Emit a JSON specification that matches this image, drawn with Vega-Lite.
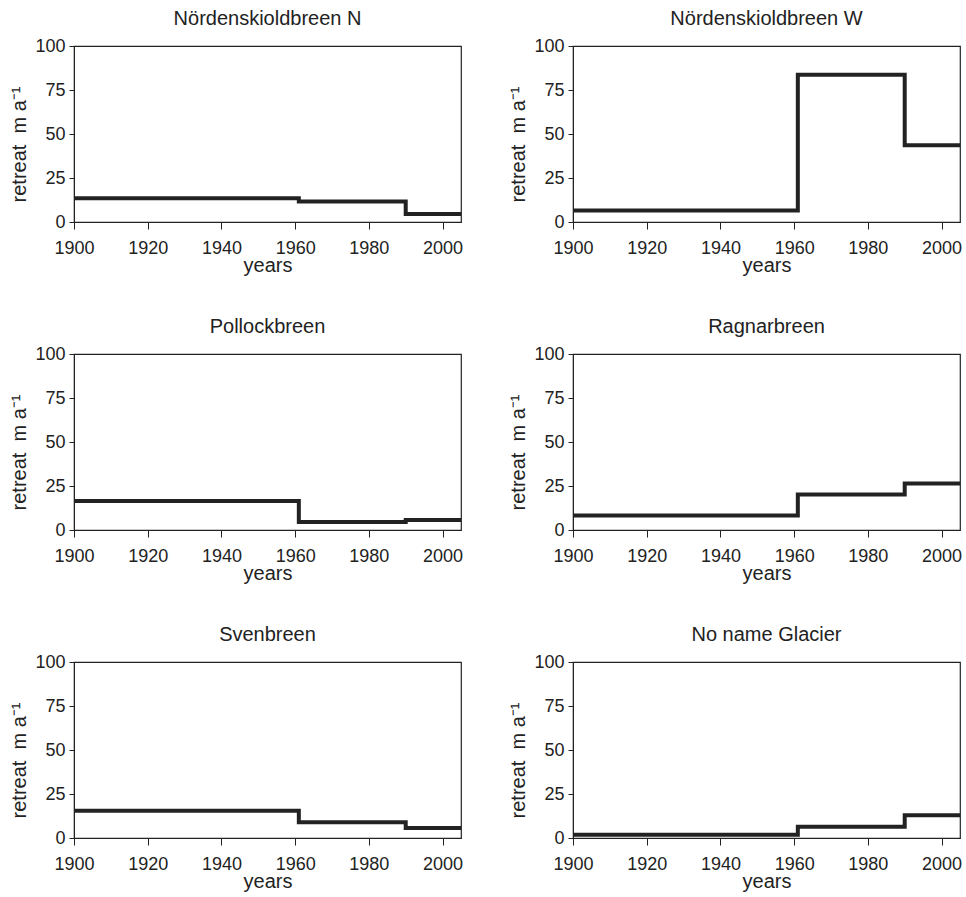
{
  "$schema": "https://vega.github.io/schema/vega-lite/v6.json",
  "background": "white",
  "padding": {"left": 9, "top": 8, "right": 0, "bottom": 0},
  "data": {
    "values": [
      {"glacier": "Nördenskioldbreen N", "year": 1900, "retreat": 13.5},
      {"glacier": "Nördenskioldbreen N", "year": 1961, "retreat": 11.7},
      {"glacier": "Nördenskioldbreen N", "year": 1990, "retreat": 4.6},
      {"glacier": "Nördenskioldbreen N", "year": 2005, "retreat": 4.6},
      {"glacier": "Nördenskioldbreen W", "year": 1900, "retreat": 6.5},
      {"glacier": "Nördenskioldbreen W", "year": 1961, "retreat": 83.7},
      {"glacier": "Nördenskioldbreen W", "year": 1990, "retreat": 43.6},
      {"glacier": "Nördenskioldbreen W", "year": 2005, "retreat": 43.6},
      {"glacier": "Pollockbreen", "year": 1900, "retreat": 16.5},
      {"glacier": "Pollockbreen", "year": 1961, "retreat": 4.6},
      {"glacier": "Pollockbreen", "year": 1990, "retreat": 5.7},
      {"glacier": "Pollockbreen", "year": 2005, "retreat": 5.7},
      {"glacier": "Ragnarbreen", "year": 1900, "retreat": 8.2},
      {"glacier": "Ragnarbreen", "year": 1961, "retreat": 20.1},
      {"glacier": "Ragnarbreen", "year": 1990, "retreat": 26.4},
      {"glacier": "Ragnarbreen", "year": 2005, "retreat": 26.4},
      {"glacier": "Svenbreen", "year": 1900, "retreat": 15.5},
      {"glacier": "Svenbreen", "year": 1961, "retreat": 8.9},
      {"glacier": "Svenbreen", "year": 1990, "retreat": 5.7},
      {"glacier": "Svenbreen", "year": 2005, "retreat": 5.7},
      {"glacier": "No name Glacier", "year": 1900, "retreat": 1.9},
      {"glacier": "No name Glacier", "year": 1961, "retreat": 6.4},
      {"glacier": "No name Glacier", "year": 1990, "retreat": 12.9},
      {"glacier": "No name Glacier", "year": 2005, "retreat": 12.9}
    ]
  },
  "facet": {
    "field": "glacier",
    "type": "nominal",
    "sort": ["Nördenskioldbreen N", "Nördenskioldbreen W", "Pollockbreen", "Ragnarbreen", "Svenbreen", "No name Glacier"],
    "header": {
      "title": null,
      "labelFont": "Liberation Sans",
      "labelFontSize": 20,
      "labelColor": "#222",
      "labelPadding": 8
    }
  },
  "columns": 2,
  "spacing": {"row": 40, "column": 44},
  "resolve": {"axis": {"x": "independent", "y": "independent"}},
  "spec": {
    "width": 387,
    "height": 176,
    "mark": {"type": "line", "interpolate": "step-after", "strokeWidth": 4, "color": "#222", "clip": true},
    "encoding": {
      "x": {
        "field": "year",
        "type": "quantitative",
        "scale": {"domain": [1900, 2005], "nice": false, "zero": false},
        "axis": {"title": "years", "values": [1900, 1920, 1940, 1960, 1980, 2000], "format": "d", "labelFlush": false, "tickSize": 7, "labelPadding": 10, "titlePadding": -2}
      },
      "y": {
        "field": "retreat",
        "type": "quantitative",
        "scale": {"domain": [0, 100], "nice": false},
        "axis": {"title": "retreat\u00a0\u00a0m a⁻¹", "titleY": 98, "values": [0, 25, 50, 75, 100], "tickSize": 5, "labelPadding": 4, "titlePadding": 5}
      }
    }
  },
  "config": {
    "font": "Liberation Sans",
    "view": {"stroke": "#222", "strokeWidth": 1.2},
    "axis": {
      "grid": false,
      "labelFont": "Liberation Sans",
      "labelFontSize": 18,
      "labelColor": "#222",
      "titleFont": "Liberation Sans",
      "titleFontSize": 20,
      "titleFontWeight": "normal",
      "titleColor": "#222",
      "tickColor": "#222",
      "domainColor": "#222"
    }
  }
}
